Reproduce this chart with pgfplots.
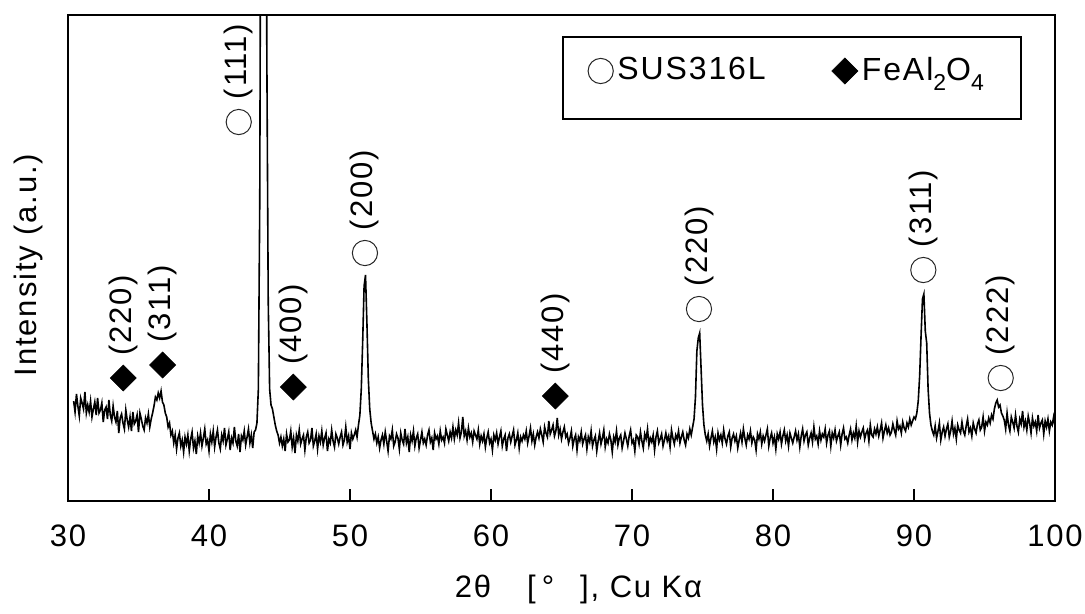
\documentclass[border=0pt]{standalone}
\usepackage{fontspec}
\setmainfont{Liberation Sans}[LetterSpace=6]
\usepackage{pgfplots}
\pgfplotsset{compat=1.18}
\newcommand\chartfont{\fontsize{15.5}{18}\selectfont}
\newcommand\legfont{\fontsize{16}{19}\selectfont}
\newcommand\sub[1]{\raisebox{-5pt}{\fontsize{11.5}{12}\selectfont #1}}

\begin{document}
\chartfont
\begin{tikzpicture}
\begin{axis}[
  width=493.5pt, height=243pt, scale only axis,
  xmin=30, xmax=100, ymin=0, ymax=486,
  xtick={30,40,...,100}, ytick=\empty,
  xtick pos=left, tick align=inside, major tick length=6pt,
  axis line style={line width=1pt},
  every tick/.style={black, line width=0.6pt},
  /pgf/number format/assume math mode=true,
  xticklabel style={font=\chartfont, inner sep=0pt, yshift=-11.5pt},
  xlabel={2θ\hspace{18pt}[\hspace{3pt}°\hspace{13pt}], Cu Kα},
  ylabel={Intensity (a.u.)},
  every axis x label/.style={at={(axis description cs:0.5,0)}, anchor=base, xshift=8.5pt, yshift=-48pt, font=\chartfont},
  every axis y label/.style={at={(axis description cs:0,0.5)}, xshift=-20pt, yshift=-3.5pt, rotate=90, anchor=center, font=\chartfont},
  legend columns=2, legend cell align=left,
  legend image code/.code={\draw[#1, only marks] plot coordinates {(0pt,0pt)};},
  legend style={at={(0.5012,0.8848)}, anchor=west, draw=none, fill=none,
    font=\legfont, inner xsep=12.5pt,
    /tikz/every even column/.append style={column sep=31pt}},
  point meta=explicit symbolic,
  nodes near coords align={anchor=west},
  every node near coord/.append style={rotate=90, xshift=6pt, font=\chartfont, black},
]
% legend frame
\draw[line width=0.8pt] (rel axis cs:0.5012,0.9547) rectangle (rel axis cs:0.9653,0.7860);
% XRD pattern
\addplot[black, line width=0.8pt, mark=none, forget plot, nodes near coords=] coordinates {
(30.4,100)(30.5,89)(30.6,107)(30.7,95)(30.8,85)(30.9,103)(31.0,98)(31.1,92)(31.2,109)(31.3,88)
(31.4,96)(31.5,89)(31.6,100)(31.7,84)(31.8,92)(31.9,99)(32.0,86)(32.1,103)(32.2,88)(32.3,91)
(32.4,98)(32.5,79)(32.6,91)(32.7,94)(32.8,82)(32.9,101)(33.0,86)(33.1,80)(33.2,95)(33.3,84)
(33.4,79)(33.5,90)(33.6,68)(33.7,83)(33.8,87)(33.9,78)(34.0,72)(34.1,91)(34.2,81)(34.3,74)
(34.4,84)(34.5,70)(34.6,89)(34.7,77)(34.8,80)(34.9,86)(35.0,69)(35.1,88)(35.2,82)(35.3,75)
(35.4,71)(35.5,83)(35.6,78)(35.7,87)(35.8,74)(35.9,82)(36.0,88)(36.1,95)(36.2,104)(36.3,101)
(36.4,108)(36.5,103)(36.6,110)(36.7,99)(36.8,96)(36.9,88)(37.0,84)(37.1,74)(37.2,78)(37.3,66)
(37.4,70)(37.5,58)(37.6,66)(37.7,52)(37.8,63)(37.9,68)(38.0,55)(38.1,61)(38.2,49)(38.3,64)
(38.4,57)(38.5,66)(38.6,50)(38.7,62)(38.8,69)(38.9,53)(39.0,60)(39.1,47)(39.2,65)(39.3,58)
(39.4,68)(39.5,55)(39.6,63)(39.7,72)(39.8,57)(39.9,61)(40.0,50)(40.1,67)(40.2,59)(40.3,70)
(40.4,54)(40.5,64)(40.6,71)(40.7,58)(40.8,52)(40.9,66)(41.0,60)(41.1,73)(41.2,56)(41.3,62)
(41.4,69)(41.5,51)(41.6,63)(41.7,58)(41.8,74)(41.9,60)(42.0,55)(42.1,67)(42.2,49)(42.3,65)
(42.4,61)(42.5,70)(42.6,56)(42.7,64)(42.8,72)(42.9,58)(43.0,66)(43.1,53)(43.2,69)(43.3,71)
(43.4,78)(43.5,112)(43.6,300)(43.7,800)(43.8,1400)(43.9,1500)(44.0,1000)(44.1,450)(44.2,200)(44.3,112)
(44.4,96)(44.5,92)(44.6,84)(44.7,76)(44.8,70)(44.9,66)(45.0,58)(45.1,64)(45.2,55)(45.3,62)
(45.4,50)(45.5,67)(45.6,59)(45.7,61)(45.8,70)(45.9,54)(46.0,63)(46.1,48)(46.2,66)(46.3,60)
(46.4,71)(46.5,57)(46.6,62)(46.7,66)(46.8,51)(46.9,64)(47.0,69)(47.1,58)(47.2,61)(47.3,73)
(47.4,55)(47.5,60)(47.6,67)(47.7,52)(47.8,65)(47.9,59)(48.0,70)(48.1,56)(48.2,63)(48.3,68)
(48.4,50)(48.5,62)(48.6,58)(48.7,71)(48.8,60)(48.9,54)(49.0,67)(49.1,63)(49.2,57)(49.3,64)
(49.4,69)(49.5,56)(49.6,61)(49.7,74)(49.8,59)(49.9,65)(50.0,52)(50.1,68)(50.2,62)(50.3,66)
(50.4,71)(50.5,64)(50.6,76)(50.7,86)(50.8,112)(50.9,160)(51.0,215)(51.1,226)(51.2,178)(51.3,122)
(51.4,92)(51.5,78)(51.6,70)(51.7,62)(51.8,67)(51.9,58)(52.0,64)(52.1,53)(52.2,61)(52.3,66)
(52.4,57)(52.5,69)(52.6,60)(52.7,50)(52.8,65)(52.9,62)(53.0,71)(53.1,55)(53.2,59)(53.3,67)
(53.4,63)(53.5,52)(53.6,68)(53.7,61)(53.8,57)(53.9,72)(54.0,58)(54.1,64)(54.2,49)(54.3,66)
(54.4,60)(54.5,70)(54.6,55)(54.7,63)(54.8,67)(54.9,53)(55.0,61)(55.1,69)(55.2,58)(55.3,62)
(55.4,56)(55.5,66)(55.6,71)(55.7,59)(55.8,63)(55.9,51)(56.0,68)(56.1,62)(56.2,65)(56.3,57)
(56.4,70)(56.5,61)(56.6,64)(56.7,58)(56.8,72)(56.9,66)(57.0,60)(57.1,69)(57.2,63)(57.3,74)
(57.4,62)(57.5,71)(57.6,66)(57.7,78)(57.8,63)(57.9,69)(58.0,84)(58.1,65)(58.2,70)(58.3,61)
(58.4,73)(58.5,64)(58.6,68)(58.7,59)(58.8,70)(58.9,66)(59.0,62)(59.1,71)(59.2,57)(59.3,65)
(59.4,60)(59.5,67)(59.6,54)(59.7,63)(59.8,69)(59.9,58)(60.0,62)(60.1,51)(60.2,66)(60.3,61)
(60.4,68)(60.5,57)(60.6,64)(60.7,70)(60.8,55)(60.9,62)(61.0,66)(61.1,50)(61.2,63)(61.3,67)
(61.4,59)(61.5,65)(61.6,71)(61.7,56)(61.8,61)(61.9,68)(62.0,53)(62.1,64)(62.2,60)(62.3,66)
(62.4,62)(62.5,70)(62.6,58)(62.7,65)(62.8,73)(62.9,60)(63.0,67)(63.1,56)(63.2,64)(63.3,69)
(63.4,63)(63.5,72)(63.6,66)(63.7,59)(63.8,74)(63.9,68)(64.0,64)(64.1,80)(64.2,67)(64.3,71)
(64.4,76)(64.5,65)(64.6,70)(64.7,83)(64.8,66)(64.9,72)(65.0,62)(65.1,69)(65.2,74)(65.3,64)
(65.4,67)(65.5,58)(65.6,63)(65.7,70)(65.8,55)(65.9,62)(66.0,66)(66.1,51)(66.2,64)(66.3,60)
(66.4,69)(66.5,57)(66.6,62)(66.7,66)(66.8,52)(66.9,64)(67.0,59)(67.1,70)(67.2,55)(67.3,61)
(67.4,65)(67.5,50)(67.6,60)(67.7,68)(67.8,57)(67.9,63)(68.0,71)(68.1,54)(68.2,62)(68.3,58)
(68.4,67)(68.5,61)(68.6,49)(68.7,64)(68.8,59)(68.9,70)(69.0,56)(69.1,63)(69.2,66)(69.3,53)
(69.4,60)(69.5,68)(69.6,62)(69.7,55)(69.8,65)(69.9,71)(70.0,58)(70.1,61)(70.2,50)(70.3,66)
(70.4,64)(70.5,57)(70.6,69)(70.7,60)(70.8,53)(70.9,67)(71.0,62)(71.1,72)(71.2,56)(71.3,63)
(71.4,59)(71.5,66)(71.6,51)(71.7,64)(71.8,70)(71.9,58)(72.0,62)(72.1,67)(72.2,55)(72.3,61)
(72.4,68)(72.5,60)(72.6,65)(72.7,54)(72.8,71)(72.9,63)(73.0,57)(73.1,66)(73.2,62)(73.3,70)
(73.4,58)(73.5,64)(73.6,69)(73.7,61)(73.8,56)(73.9,67)(74.0,63)(74.1,72)(74.2,66)(74.3,74)
(74.4,82)(74.5,104)(74.6,150)(74.7,163)(74.8,168)(74.9,132)(75.0,96)(75.1,76)(75.2,66)(75.3,60)
(75.4,67)(75.5,55)(75.6,63)(75.7,70)(75.8,59)(75.9,64)(76.0,52)(76.1,68)(76.2,61)(76.3,66)
(76.4,58)(76.5,71)(76.6,62)(76.7,57)(76.8,65)(76.9,69)(77.0,54)(77.1,63)(77.2,67)(77.3,60)
(77.4,65)(77.5,53)(77.6,61)(77.7,68)(77.8,59)(77.9,72)(78.0,63)(78.1,56)(78.2,66)(78.3,62)
(78.4,70)(78.5,58)(78.6,64)(78.7,61)(78.8,51)(78.9,67)(79.0,62)(79.1,69)(79.2,57)(79.3,65)
(79.4,60)(79.5,66)(79.6,72)(79.7,55)(79.8,63)(79.9,68)(80.0,58)(80.1,64)(80.2,52)(80.3,67)
(80.4,62)(80.5,69)(80.6,57)(80.7,65)(80.8,71)(80.9,60)(81.0,66)(81.1,55)(81.2,68)(81.3,63)
(81.4,58)(81.5,64)(81.6,70)(81.7,61)(81.8,67)(81.9,54)(82.0,65)(82.1,72)(82.2,60)(82.3,66)
(82.4,69)(82.5,56)(82.6,63)(82.7,68)(82.8,59)(82.9,74)(83.0,62)(83.1,65)(83.2,57)(83.3,70)
(83.4,61)(83.5,67)(83.6,64)(83.7,72)(83.8,58)(83.9,66)(84.0,70)(84.1,55)(84.2,68)(84.3,63)
(84.4,71)(84.5,60)(84.6,65)(84.7,69)(84.8,56)(84.9,67)(85.0,73)(85.1,62)(85.2,64)(85.3,58)
(85.4,66)(85.5,72)(85.6,61)(85.7,68)(85.8,63)(85.9,75)(86.0,59)(86.1,70)(86.2,64)(86.3,69)
(86.4,73)(86.5,62)(86.6,68)(86.7,71)(86.8,60)(86.9,76)(87.0,66)(87.1,64)(87.2,72)(87.3,67)
(87.4,74)(87.5,65)(87.6,71)(87.7,78)(87.8,63)(87.9,70)(88.0,76)(88.1,68)(88.2,73)(88.3,66)
(88.4,69)(88.5,77)(88.6,71)(88.7,66)(88.8,80)(88.9,72)(89.0,75)(89.1,68)(89.2,79)(89.3,73)
(89.4,70)(89.5,78)(89.6,74)(89.7,82)(89.8,76)(89.9,80)(90.0,84)(90.1,82)(90.2,88)(90.3,100)
(90.4,125)(90.5,165)(90.6,202)(90.7,207)(90.8,170)(90.9,158)(91.0,112)(91.1,88)(91.2,76)(91.3,70)
(91.4,66)(91.5,75)(91.6,63)(91.7,70)(91.8,78)(91.9,61)(92.0,69)(92.1,74)(92.2,65)(92.3,72)
(92.4,77)(92.5,64)(92.6,70)(92.7,80)(92.8,67)(92.9,73)(93.0,62)(93.1,76)(93.2,71)(93.3,68)
(93.4,79)(93.5,70)(93.6,66)(93.7,75)(93.8,82)(93.9,69)(94.0,73)(94.1,65)(94.2,78)(94.3,72)
(94.4,68)(94.5,77)(94.6,81)(94.7,71)(94.8,74)(94.9,84)(95.0,70)(95.1,79)(95.2,76)(95.3,83)
(95.4,78)(95.5,86)(95.6,82)(95.7,92)(95.8,98)(95.9,101)(96.0,94)(96.1,96)(96.2,88)(96.3,85)
(96.4,81)(96.5,72)(96.6,88)(96.7,76)(96.8,70)(96.9,84)(97.0,79)(97.1,73)(97.2,86)(97.3,75)
(97.4,69)(97.5,82)(97.6,77)(97.7,90)(97.8,74)(97.9,80)(98.0,71)(98.1,85)(98.2,78)(98.3,68)
(98.4,83)(98.5,75)(98.6,79)(98.7,70)(98.8,86)(98.9,73)(99.0,78)(99.1,81)(99.2,67)(99.3,80)
(99.4,74)(99.5,82)(99.6,70)(99.7,79)(99.8,76)(99.9,84)(100.0,75)
};
% SUS316L reflections
\addplot[only marks, mark=o, mark size=6.3pt, nodes near coords,
  mark options={draw=black!85, fill=white, line width=0.5pt}] coordinates {
(42.11,379)[(111)] (51.06,248)[(200)] (74.75,192)[(220)] (90.66,231)[(311)] (96.15,123)[(222)]
};
\addlegendentry{SUS316L}
% FeAl2O4 reflections
\addplot[only marks, mark=square*, mark size=4.6pt, nodes near coords,
  mark options={rotate=45, draw=black, fill=black, line width=0.3pt}] coordinates {
(33.92,123)[(220)] (36.71,136)[(311)] (45.98,114)[(400)] (64.56,105)[(440)]
};
\addlegendentry{FeAl\sub{2}O\sub{4}}
\end{axis}
\path ([shift={(-34pt,-51.5pt)}]current axis.south west) rectangle ([shift={(15pt,7.5pt)}]current axis.north east);
\end{tikzpicture}
\end{document}
